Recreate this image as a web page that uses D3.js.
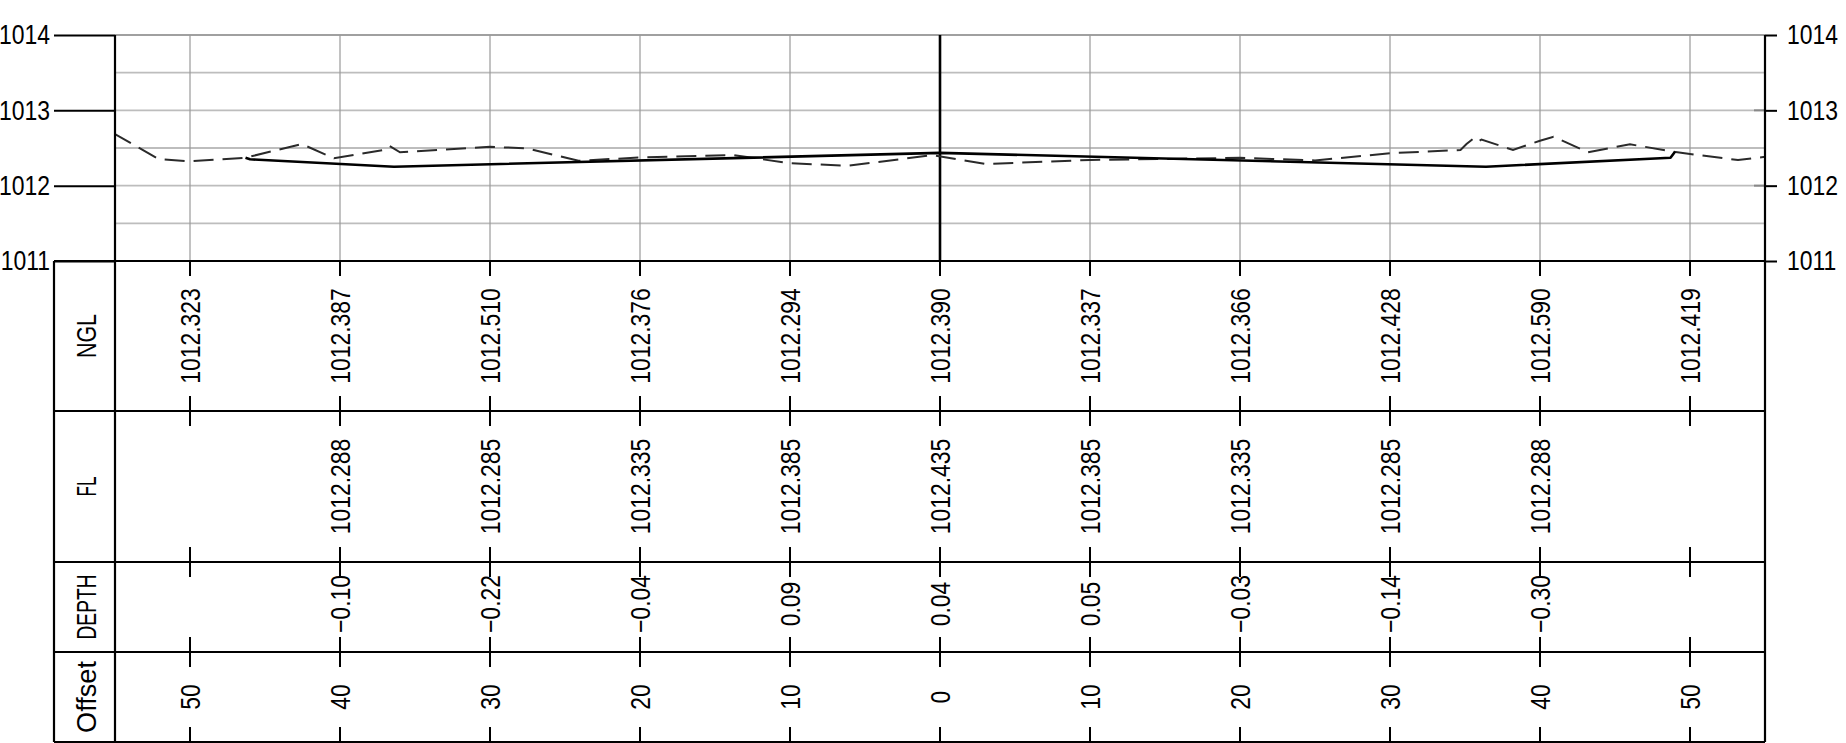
<!DOCTYPE html>
<html>
<head>
<meta charset="utf-8">
<script src="https://cdn.jsdelivr.net/npm/d3@7"></script>
<style>
  body { margin: 0; background: #fff; }
  svg { display: block; background: #fff; }
</style>
</head>
<body>
<div id="profile"></div>
<script>
'use strict';

/*
    CROSS SECTION PROFILE
*/

// stations across the section (left side negative)
const stations = [-50, -40, -30, -20, -10, 0, 10, 20, 30, 40, 50]
const nglLevels = [1012.323, 1012.387, 1012.510, 1012.376, 1012.294, 1012.390, 1012.337, 1012.366, 1012.428, 1012.590, 1012.419]
const flLevels = [null, 1012.288, 1012.285, 1012.335, 1012.385, 1012.435, 1012.385, 1012.335, 1012.285, 1012.288, null]
const depthValues = [null, -0.10, -0.22, -0.04, 0.09, 0.04, 0.05, -0.03, -0.14, -0.30, null]

// natural ground (dashed) - vertices
const groundOffsets = [-55.1, -52.1, -50, -46.3, -42.55, -40.4, -37.1, -36.7, -36.0, -30, -27.6, -24.1, -20, -13.8, -10, -6.1, -0.5, 3, 10, 20, 25, 30, 34.7, 35.1, 35.55, 35.8, 36.1, 38.2, 40, 40.9, 41.4, 43.2, 46, 48.9, 50, 53.2, 55.1]
const groundLevels = [1012.695, 1012.354, 1012.323, 1012.371, 1012.553, 1012.363, 1012.473, 1012.527, 1012.443, 1012.515, 1012.497, 1012.331, 1012.374, 1012.407, 1012.297, 1012.265, 1012.405, 1012.288, 1012.341, 1012.369, 1012.335, 1012.43, 1012.473, 1012.553, 1012.625, 1012.58, 1012.613, 1012.473, 1012.597, 1012.65, 1012.606, 1012.443, 1012.549, 1012.451, 1012.42, 1012.34, 1012.385]

// design section (solid)
const designOffsets = [-46.3, -46.0, -36.4, 0, 36.4, 48.7, 49.0]
const designLevels = [1012.371, 1012.35, 1012.252, 1012.435, 1012.252, 1012.37, 1012.45]

const levelTicks = [1011, 1012, 1013, 1014]
const gridLevels = [1011.5, 1012, 1012.5, 1013, 1013.5]
const rowNames = ["NGL", "FL", "DEPTH", "Offset"]

const drawProfile = () => {

    var width = 1846,
        height = 743;
    const plot = ({ left: 115, right: 1765, top: 35, bottom: 261 })
    const rowHeights = [150, 151, 90, 90]
    const nameLengths = [44, 20, 65, 72]
    const tableLeft = 54
    const font = '"Liberation Sans", Arimo, Arial, sans-serif'
    const fontSize = 28
    const squeeze = 0.82   // narrow the letters like the CAD text style

    var x = d3.scaleLinear()
        .domain([-55, 55])
        .range([plot.left, plot.right])
    var y = d3.scaleLinear()
        .domain([1011, 1014])
        .range([plot.bottom, plot.top])

    var svg = d3.select("#profile").append("svg")
        .attr("width", width)
        .attr("height", height)
        .attr("viewBox", "0 0 " + width + " " + height)
        .style("font-family", font)

    svg.append("defs").append("clipPath")
        .attr("id", "plot-clip")
        .append("rect")
        .attr("x", plot.left)
        .attr("y", plot.top)
        .attr("width", plot.right - plot.left)
        .attr("height", plot.bottom - plot.top)

    // horizontal grid
    svg.append("g")
        .selectAll("line")
        .data(gridLevels)
        .enter().append("line")
        .attr("x1", plot.left)
        .attr("x2", plot.right)
        .attr("y1", d => y(d))
        .attr("y2", d => y(d))
        .attr("stroke", "#bdbdbd")
        .attr("stroke-width", 1.8)

    // top line
    svg.append("line")
        .attr("x1", plot.left).attr("x2", plot.right)
        .attr("y1", y(1014)).attr("y2", y(1014))
        .attr("stroke", "#808080")
        .attr("stroke-width", 1.6)

    // vertical grid at stations
    svg.append("g")
        .selectAll("line")
        .data(stations.filter(d => d !== 0))
        .enter().append("line")
        .attr("x1", d => x(d))
        .attr("x2", d => x(d))
        .attr("y1", plot.top)
        .attr("y2", plot.bottom)
        .attr("stroke", "#999")
        .attr("stroke-width", 1.2)

    // centre line
    svg.append("line")
        .attr("x1", x(0)).attr("x2", x(0))
        .attr("y1", plot.top).attr("y2", plot.bottom)
        .attr("stroke", "#000")
        .attr("stroke-width", 2.6)

    // axes
    const leftAxis = d3.axisLeft(y)
        .tickValues(levelTicks)
        .tickSize(plot.left - tableLeft)
        .tickPadding(4)
        .tickFormat(d3.format("d"))
    const rightAxis = d3.axisRight(y)
        .tickValues(levelTicks)
        .tickSize(12)
        .tickPadding(10)
        .tickFormat(d3.format("d"))

    svg.append("g")
        .attr("transform", `translate(${plot.left},0)`)
        .call(leftAxis)
        .call(g => g.select(".domain").remove())
    svg.append("g")
        .attr("transform", `translate(${plot.right},0)`)
        .call(rightAxis)
        .call(g => g.select(".domain").remove())
    svg.selectAll(".tick line").attr("stroke", "#000").attr("stroke-width", 2)
    // squeeze tick labels horizontally (keep their anchor point)
    svg.selectAll(".tick text")
        .attr("font-family", font)
        .attr("font-size", fontSize)
        .attr("fill", "#000")
        .attr("x", function () { return +d3.select(this).attr("x") / squeeze })
        .attr("transform", `scale(${squeeze},1)`)

    // short inner ticks on the right axis
    svg.append("g")
        .selectAll("line")
        .data([1012, 1013])
        .enter().append("line")
        .attr("x1", plot.right - 11).attr("x2", plot.right)
        .attr("y1", d => y(d)).attr("y2", d => y(d))
        .attr("stroke", "#888")
        .attr("stroke-width", 2)

    // profile lines
    const line = d3.line()
        .x(d => x(d[0]))
        .y(d => y(d[1]))
    const lines = svg.append("g").attr("clip-path", "url(#plot-clip)")

    lines.append("path")
        .datum(groundOffsets.map((o, i) => [o, groundLevels[i]]))
        .attr("d", line)
        .attr("fill", "none")
        .attr("stroke", "#2a2a2a")
        .attr("stroke-width", 2)
        .attr("stroke-dasharray", "20,9")

    lines.append("path")
        .datum(designOffsets.map((o, i) => [o, designLevels[i]]))
        .attr("d", line)
        .attr("fill", "none")
        .attr("stroke", "#000")
        .attr("stroke-width", 2.6)
        .attr("stroke-linejoin", "round")

    // data table
    const borders = [plot.bottom]
    rowHeights.forEach(h => borders.push(borders[borders.length - 1] + h))
    const tableBottom = borders[borders.length - 1]

    const table = svg.append("g")
    table.selectAll("line.row")
        .data(borders)
        .enter().append("line")
        .attr("class", "row")
        .attr("x1", tableLeft).attr("x2", plot.right)
        .attr("y1", d => d).attr("y2", d => d)
        .attr("stroke", "#000")
        .attr("stroke-width", 2.2)

    // frame verticals
    table.selectAll("line.col")
        .data([
            { x: tableLeft, y1: plot.bottom, y2: tableBottom },
            { x: plot.left, y1: plot.top, y2: tableBottom },
            { x: plot.right, y1: plot.top, y2: tableBottom }
        ])
        .enter().append("line")
        .attr("class", "col")
        .attr("x1", d => d.x).attr("x2", d => d.x)
        .attr("y1", d => d.y1).attr("y2", d => d.y2)
        .attr("stroke", "#000")
        .attr("stroke-width", 2.2)

    // station ticks crossing each row border
    const tickLen = 15
    const tickSegs = []
    stations.forEach(s => {
        borders.forEach((b, i) => {
            const y1 = i === 0 ? b : b - tickLen
            const y2 = i === borders.length - 1 ? b : b + tickLen
            tickSegs.push({ s, y1, y2 })
        })
    })
    table.selectAll("line.stn")
        .data(tickSegs)
        .enter().append("line")
        .attr("class", "stn")
        .attr("x1", d => x(d.s)).attr("x2", d => x(d.s))
        .attr("y1", d => d.y1).attr("y2", d => d.y2)
        .attr("stroke", "#000")
        .attr("stroke-width", 2)

    const rowCenter = i => (borders[i] + borders[i + 1]) / 2
    const capHalf = 10

    // row values
    const rows = [
        nglLevels.map(v => v === null ? "" : d3.format(".3f")(v)),
        flLevels.map(v => v === null ? "" : d3.format(".3f")(v)),
        depthValues.map(v => v === null ? "" : d3.format(".2f")(v)),
        stations.map(s => String(Math.abs(s)))
    ]
    rows.forEach((labels, r) => {
        table.append("g")
            .selectAll("text")
            .data(stations.map((s, i) => ({ s, label: labels[i] })).filter(d => d.label !== ""))
            .enter().append("text")
            .attr("transform", d => `translate(${x(d.s) + capHalf},${rowCenter(r) - (r === 2 ? 3 : 0)}) rotate(-90) scale(${squeeze},1)`)
            .attr("text-anchor", "middle")
            .attr("font-size", fontSize)
            .text(d => d.label)
    })

    // row names, stretched to the lengths in the drawing
    table.selectAll("text.name")
        .data(rowNames)
        .enter().append("text")
        .attr("class", "name")
        .attr("text-anchor", "middle")
        .attr("font-size", fontSize)
        .text(d => d)
        .attr("transform", function (d, i) {
            const k = nameLengths[i] / this.getComputedTextLength()
            return `translate(${(tableLeft + plot.left) / 2 + capHalf + 1},${rowCenter(i)}) rotate(-90) scale(${k},1)`
        })
}

drawProfile()
</script>
</body>
</html>
